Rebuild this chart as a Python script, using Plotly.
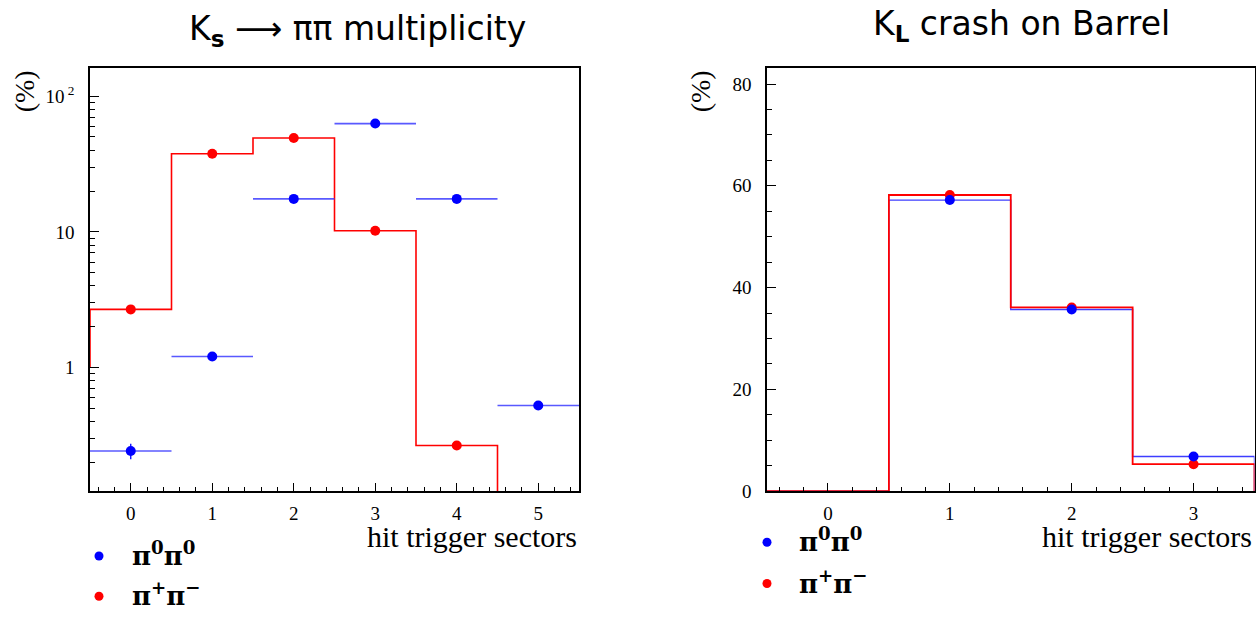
import plotly.graph_objects as go

# ---------------- data ----------------
sectors_ks = [0, 1, 2, 3, 4, 5]
pi0pi0_ks = [0.244, 1.21, 17.5, 62.7, 17.5, 0.527]
pi0pi0_ks_err = [0.032, 0.03, 0.15, 0.3, 0.15, 0.02]
pipi_ks = [2.69, 37.6, 49.1, 10.2, 0.268, 0.0]

sectors_kl = [0, 1, 2, 3]
pi0pi0_kl = [0.0, 57.2, 35.7, 6.8]
pipi_kl = [0.0, 58.2, 36.1, 5.3]

ks_yticks = [1, 10, 100]
ks_yticktext = ["1", "10", "10<sup> 2</sup>"]
kl_yticks = [0, 20, 40, 60, 80]

title_ks = "K<sub><b>s</b></sub> ⟶ ππ multiplicity"
title_kl = "K<sub><b>L</b></sub> crash on Barrel"
xtitle = "hit trigger sectors"
ytitle = "(%)"
legend_labels = ["π<sup>0</sup>π<sup>0</sup>", "π<sup>+</sup>π<sup>−</sup>"]

BLUE = "#0000ff"
RED = "#ff0000"
W, H = 1256, 621


def step_path(centers, values, start_base, end_base, floor=None):
    xs = [centers[0] - 0.5]
    ys = [start_base]
    for c, v in zip(centers, values):
        vv = v if (floor is None or v > 0) else floor
        xs += [c - 0.5, c + 0.5]
        ys += [vv, vv]
    xs.append(centers[-1] + 0.5)
    ys.append(end_base)
    return xs, ys


def nz(centers, values):
    pts = [(c, v) for c, v in zip(centers, values) if v > 0]
    return [p[0] for p in pts], [p[1] for p in pts]


fig = go.Figure()

# ----- left: Ks -> pi pi (log) -----
sx, sy = step_path(sectors_ks, pipi_ks, 1.0, 1e-3, floor=1e-3)
fig.add_trace(go.Scatter(x=sx, y=sy, mode="lines", line=dict(color=RED, width=1.6),
                         xaxis="x", yaxis="y", showlegend=False, hoverinfo="skip"))
fig.add_trace(go.Scatter(x=sectors_ks, y=pi0pi0_ks, mode="markers",
                         marker=dict(color=BLUE, size=10),
                         error_x=dict(type="constant", value=0.5, color="rgba(60,60,255,0.85)",
                                      thickness=1.6, width=0),
                         error_y=dict(type="data", array=pi0pi0_ks_err, color=BLUE,
                                      thickness=1.3, width=0),
                         xaxis="x", yaxis="y", showlegend=False))
rx, ry = nz(sectors_ks, pipi_ks)
fig.add_trace(go.Scatter(x=rx, y=ry, mode="markers", marker=dict(color=RED, size=10),
                         xaxis="x", yaxis="y", showlegend=False))

# ----- right: KL crash (linear) -----
sx, sy = step_path(sectors_kl, pi0pi0_kl, 0.0, 0.0)
fig.add_trace(go.Scatter(x=sx, y=sy, mode="lines", line=dict(color="rgba(40,40,255,0.9)", width=1.4),
                         xaxis="x2", yaxis="y2", showlegend=False, hoverinfo="skip"))
sx, sy = step_path(sectors_kl, pipi_kl, 0.0, 0.0)
fig.add_trace(go.Scatter(x=sx, y=sy, mode="lines", line=dict(color=RED, width=1.8),
                         xaxis="x2", yaxis="y2", showlegend=False, hoverinfo="skip"))
rx, ry = nz(sectors_kl, pipi_kl)
fig.add_trace(go.Scatter(x=rx, y=ry, mode="markers", marker=dict(color=RED, size=10),
                         xaxis="x2", yaxis="y2", showlegend=False))
bx, by = nz(sectors_kl, pi0pi0_kl)
fig.add_trace(go.Scatter(x=bx, y=by, mode="markers", marker=dict(color=BLUE, size=10),
                         xaxis="x2", yaxis="y2", showlegend=False))

tickfont = dict(family="Liberation Serif", size=19, color="black")
axis_common = dict(showline=True, linecolor="black", linewidth=1.5, mirror=True,
                   ticks="inside", tickcolor="black", tickwidth=1, showgrid=False,
                   zeroline=False, tickfont=tickfont, fixedrange=True)

ks_minor = [m * d for d in (0.1, 1, 10, 100) for m in range(2, 10)]

left_x = [90 / W, 579 / W]
right_x = [767 / W, 1254.5 / W]
ydom = [1 - 500 / H, 1 - 69 / H]

fig.update_layout(
    width=W, height=H,
    margin=dict(l=0, r=0, t=0, b=0),
    paper_bgcolor="white", plot_bgcolor="white",
    xaxis=dict(domain=left_x, anchor="y", range=[-0.5, 5.5], tickvals=sectors_ks,
               ticklen=8, ticklabelstandoff=4,
               minor=dict(dtick=0.2, tick0=0, ticks="inside", ticklen=4, tickcolor="black"),
               **axis_common),
    yaxis=dict(domain=ydom, anchor="x", type="log", range=[-0.908, 2.208],
               tickmode="array", tickvals=ks_yticks, ticktext=ks_yticktext,
               ticklen=9, ticklabelstandoff=10,
               minor=dict(tickmode="array", tickvals=ks_minor, ticks="inside", ticklen=5,
                          tickcolor="black"),
               **axis_common),
    xaxis2=dict(domain=right_x, anchor="y2", range=[-0.5, 3.5], tickvals=sectors_kl,
                ticklen=8, ticklabelstandoff=4,
                minor=dict(dtick=0.2, tick0=0, ticks="inside", ticklen=4, tickcolor="black"),
                **axis_common),
    yaxis2=dict(domain=ydom, anchor="x2", range=[0, 83.2], tickvals=kl_yticks,
                ticklen=9, ticklabelstandoff=10,
                minor=dict(dtick=5, tick0=0, ticks="inside", ticklen=5, tickcolor="black"),
                **axis_common),
)

annotations = []
shapes = []
title_font = dict(family="DejaVu Sans", size=33, color="black")
annotations.append(dict(text=title_ks, x=357 / W, y=1 - 31 / H, xref="paper", yref="paper",
                        showarrow=False, font=title_font, xanchor="center", yanchor="middle"))
annotations.append(dict(text=title_kl, x=1021 / W, y=1 - 26 / H, xref="paper", yref="paper",
                        showarrow=False, font=title_font, xanchor="center", yanchor="middle"))

serif_big = dict(family="Liberation Serif", size=30, color="black")
for xr, xc in ((579, 24), (1254, 700)):
    annotations.append(dict(text=xtitle, x=xr / W, y=1 - 546 / H, xref="paper", yref="paper",
                            showarrow=False, font=serif_big, xanchor="right", yanchor="middle"))
    annotations.append(dict(text=ytitle, x=xc / W, y=1 - 93 / H, xref="paper", yref="paper",
                            showarrow=False, font=dict(family="Liberation Serif", size=28,
                                                       color="black"),
                            textangle=-90, xanchor="center", yanchor="middle"))

leg_font = dict(family="DejaVu Serif", size=26, color="black")
for (dotx, textx, ys) in ((99, 130, (566, 607)), (767, 797, (552, 594))):
    for lab, col, yy in zip(legend_labels, (BLUE, RED), ys):
        shapes.append(dict(type="circle", xref="paper", yref="paper",
                           xsizemode="pixel", ysizemode="pixel",
                           xanchor=dotx / W, yanchor=1 - yy / H,
                           x0=-4.5, x1=4.5, y0=-4.5, y1=4.5,
                           fillcolor=col, line=dict(width=0)))
        annotations.append(dict(text="<b>" + lab + "</b>", x=textx / W, y=1 - (yy - 2) / H,
                                xref="paper", yref="paper", showarrow=False, font=leg_font,
                                xanchor="left", yanchor="middle"))

fig.update_layout(annotations=annotations, shapes=shapes)

fig.write_html("out.html")
